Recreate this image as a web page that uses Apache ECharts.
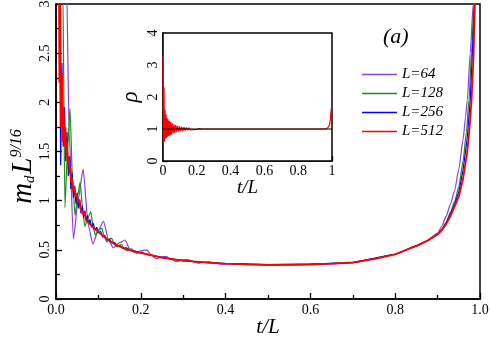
<!DOCTYPE html>
<html>
<head>
<meta charset="utf-8">
<script src="https://cdn.jsdelivr.net/npm/echarts@6.0.0/dist/echarts.min.js"></script>
<style>
html, body { margin: 0; padding: 0; background: #fff; }
#chart_md { width: 491px; height: 338px; }
</style>
</head>
<body>
<div id="chart_md"></div>
<script>
var series_names = ['L=64', 'L=128', 'L=256', 'L=512'];
var series_colors = ['#8c3fdc', '#1e8c1e', '#0000ff', '#ff0000'];

// main plot: m_d L^{9/16} against t/L
var t_L64 = [0.0156, 0.025, 0.031, 0.041, 0.052, 0.064, 0.076, 0.087, 0.100, 0.112, 0.124, 0.135, 0.149, 0.163, 0.175, 0.186, 0.200, 0.214, 0.226, 0.237, 0.250, 0.261, 0.273, 0.285, 0.300, 0.310, 0.325, 0.335, 0.350, 0.360, 0.375, 0.390, 0.410, 0.430, 0.460, 0.500, 0.550, 0.600, 0.650, 0.700, 0.750, 0.800, 0.850, 0.875, 0.900, 0.910, 0.920, 0.930, 0.940, 0.950, 0.960, 0.966, 0.970, 0.977, 0.984, 0.992];
var v_L64 = [8, 3.2, 1.7, 0.61, 1.0, 1.32, 0.75, 0.56, 0.70, 0.79, 0.60, 0.52, 0.57, 0.60, 0.50, 0.47, 0.49, 0.50, 0.44, 0.41, 0.43, 0.43, 0.40, 0.38, 0.40, 0.40, 0.38, 0.365, 0.375, 0.38, 0.365, 0.355, 0.36, 0.355, 0.35, 0.345, 0.345, 0.35, 0.356, 0.37, 0.41, 0.455, 0.54, 0.595, 0.67, 0.74, 0.84, 0.96, 1.1, 1.32, 1.62, 1.85, 2.02, 2.5, 3.0, 4.2];

var t_L128 = [0.008, 0.016, 0.021, 0.027, 0.033, 0.039, 0.045, 0.051, 0.057, 0.063, 0.068, 0.075, 0.082, 0.088, 0.093, 0.100, 0.108, 0.114, 0.120, 0.126, 0.131, 0.137, 0.143, 0.149, 0.155, 0.161, 0.167, 0.173, 0.179, 0.185, 0.191, 0.197, 0.203, 0.215, 0.225, 0.240, 0.260, 0.280, 0.300, 0.350, 0.400, 0.500, 0.600, 0.700, 0.800, 0.850, 0.875, 0.900, 0.910, 0.920, 0.930, 0.940, 0.950, 0.960, 0.968, 0.974, 0.980, 0.986, 0.992];
var v_L128 = [7, 3.2, 0.93, 1.5, 1.94, 1.2, 0.85, 1.05, 1.19, 0.9, 0.74, 0.82, 0.89, 0.72, 0.65, 0.70, 0.72, 0.63, 0.58, 0.61, 0.62, 0.56, 0.53, 0.545, 0.555, 0.51, 0.49, 0.505, 0.51, 0.48, 0.465, 0.47, 0.475, 0.45, 0.445, 0.43, 0.415, 0.40, 0.39, 0.372, 0.36, 0.35, 0.355, 0.37, 0.455, 0.54, 0.59, 0.66, 0.71, 0.78, 0.88, 0.99, 1.14, 1.4, 1.7, 2.02, 2.5, 3.0, 4.2];

var t_L256 = [0.004, 0.008, 0.011, 0.014, 0.017, 0.020, 0.023, 0.026, 0.029, 0.032, 0.035, 0.038, 0.041, 0.044, 0.047, 0.050, 0.053, 0.056, 0.059, 0.062, 0.065, 0.068, 0.071, 0.074, 0.077, 0.080, 0.084, 0.088, 0.092, 0.096, 0.100, 0.105, 0.110, 0.115, 0.120, 0.126, 0.132, 0.138, 0.144, 0.150, 0.158, 0.166, 0.175, 0.185, 0.200, 0.220, 0.250, 0.300, 0.350, 0.400, 0.500, 0.600, 0.700, 0.800, 0.850, 0.875, 0.900, 0.910, 0.920, 0.930, 0.940, 0.950, 0.960, 0.970, 0.977, 0.982, 0.987, 0.992];
var v_L256 = [6.5, 3.2, 1.36, 2.4, 1.55, 1.95, 1.4, 1.7, 1.25, 1.45, 1.12, 1.28, 1.03, 1.15, 0.97, 1.08, 0.92, 1.01, 0.87, 0.95, 0.83, 0.90, 0.79, 0.85, 0.76, 0.81, 0.73, 0.77, 0.70, 0.73, 0.67, 0.69, 0.63, 0.645, 0.60, 0.61, 0.57, 0.575, 0.54, 0.545, 0.515, 0.52, 0.495, 0.49, 0.47, 0.45, 0.42, 0.39, 0.372, 0.36, 0.35, 0.355, 0.37, 0.455, 0.54, 0.59, 0.655, 0.705, 0.77, 0.86, 0.96, 1.09, 1.31, 1.64, 2.02, 2.5, 3.0, 4.2];

var t_L512 = [0.002, 0.004, 0.006, 0.008, 0.010, 0.012, 0.014, 0.016, 0.018, 0.020, 0.022, 0.024, 0.026, 0.028, 0.030, 0.032, 0.034, 0.036, 0.038, 0.040, 0.043, 0.046, 0.049, 0.052, 0.055, 0.058, 0.061, 0.064, 0.067, 0.070, 0.073, 0.076, 0.080, 0.084, 0.088, 0.092, 0.096, 0.100, 0.110, 0.120, 0.130, 0.140, 0.150, 0.160, 0.180, 0.200, 0.220, 0.250, 0.300, 0.350, 0.400, 0.450, 0.500, 0.550, 0.600, 0.650, 0.700, 0.750, 0.800, 0.850, 0.875, 0.900, 0.910, 0.920, 0.930, 0.940, 0.950, 0.960, 0.970, 0.975, 0.980, 0.985, 0.988, 0.993];
var v_L512 = [6, 3.0, 4.2, 2.2, 3.0, 1.75, 2.3, 1.6, 1.95, 1.55, 1.75, 1.45, 1.6, 1.38, 1.45, 1.28, 1.33, 1.18, 1.23, 1.10, 1.14, 1.04, 1.07, 0.98, 1.01, 0.92, 0.94, 0.86, 0.89, 0.82, 0.84, 0.78, 0.79, 0.74, 0.76, 0.71, 0.72, 0.68, 0.645, 0.61, 0.58, 0.555, 0.535, 0.515, 0.49, 0.47, 0.45, 0.42, 0.39, 0.372, 0.36, 0.352, 0.348, 0.348, 0.352, 0.36, 0.372, 0.405, 0.455, 0.54, 0.59, 0.655, 0.70, 0.76, 0.84, 0.94, 1.04, 1.22, 1.5, 1.72, 2.02, 2.5, 3.0, 4.2];

// inset: rho against t/L (L=512) and the rho=1 line
var t_rho = [0, 0.003, 0.006, 0.009, 0.012, 0.015, 0.018, 0.021, 0.024, 0.027, 0.030, 0.034, 0.038, 0.042, 0.046, 0.050, 0.055, 0.060, 0.065, 0.070, 0.075, 0.080, 0.086, 0.092, 0.098, 0.104, 0.110, 0.117, 0.124, 0.131, 0.138, 0.146, 0.154, 0.162, 0.170, 0.180, 0.190, 0.200, 0.215, 0.230, 0.300, 0.500, 0.700, 0.900, 0.960, 0.975, 0.985, 0.990, 0.995, 1.000];
var v_rho = [3.3, 0.5, 2.3, 0.6, 1.6, 0.7, 1.45, 0.72, 1.35, 0.76, 1.3, 0.78, 1.25, 0.8, 1.22, 0.83, 1.18, 0.86, 1.15, 0.88, 1.12, 0.9, 1.1, 0.92, 1.08, 0.93, 1.07, 0.94, 1.06, 0.95, 1.05, 0.96, 1.04, 0.97, 1.03, 0.98, 1.02, 0.99, 1.01, 1.0, 1.0, 1.0, 1.0, 1.0, 1.0, 1.04, 1.12, 1.3, 1.62, 1.7];
var t_rho_ref = [0, 1];
var v_rho_ref = [1, 1];

var font_serif = '"Liberation Serif", serif';

function zip_points(ts, vs){
    var pts = [];
    for(var i = 0; i < ts.length; i++)
        pts.push([ts[i], vs[i]]);
    return pts;
}

function main_series(idx, ts, vs, width, smooth){
    return {
        name: series_names[idx],
        type: 'line',
        xAxisIndex: 0,
        yAxisIndex: 0,
        symbol: 'none',
        showSymbol: false,
        clip: true,
        smooth: smooth,
        smoothMonotone: 'x',
        color: series_colors[idx],
        lineStyle: { color: series_colors[idx], width: width },
        data: zip_points(ts, vs),
        z: 2 + idx
    };
}

function box_axis(grid, min, max, interval, tickLen, minorLen){
    return {
        type: 'value',
        gridIndex: grid,
        min: min,
        max: max,
        interval: interval,
        nameMoveOverlap: false,
        axisLine: { show: true, onZero: false, lineStyle: { color: '#000', width: 1.5 } },
        axisTick: { show: true, inside: true, length: tickLen, lineStyle: { color: '#000', width: 1.3 } },
        minorTick: { show: true, splitNumber: 2, length: minorLen, lineStyle: { color: '#000', width: 1.3 } },
        splitLine: { show: false },
        axisLabel: { color: '#000', fontFamily: font_serif, fontSize: 14 }
    };
}

var x_main = box_axis(0, 0, 1, 0.2, 6, 4);
x_main.axisLabel.margin = 4;
x_main.axisLabel.formatter = function(v){ return v.toFixed(1); };
x_main.name = 't/L';
x_main.nameLocation = 'middle';
x_main.nameGap = 18;
x_main.nameTextStyle = { color: '#000', fontFamily: font_serif, fontStyle: 'italic', fontSize: 21 };

var y_main = box_axis(0, 0, 3, 0.5, 6, 4);
y_main.axisLabel.rotate = 90;
y_main.axisLabel.margin = 4;
y_main.name = '{m|m}{d|d}{g| }{L|L}{p|9/16}';
y_main.nameLocation = 'middle';
y_main.nameRotate = 90;
y_main.nameGap = 18;
y_main.nameTextStyle = {
    color: '#000',
    padding: [0, 30, 0, 0],
    rich: {
        m: { fontFamily: font_serif, fontStyle: 'italic', fontSize: 29, color: '#000' },
        d: { fontFamily: font_serif, fontStyle: 'italic', fontSize: 15, color: '#000', verticalAlign: 'bottom', lineHeight: 15 },
        g: { fontSize: 6 },
        L: { fontFamily: font_serif, fontStyle: 'italic', fontSize: 29, color: '#000' },
        p: { fontFamily: font_serif, fontStyle: 'italic', fontSize: 16, color: '#000', verticalAlign: 'top', lineHeight: 14 }
    }
};

var x_inset = box_axis(1, 0, 1, 0.2, 5, 3);
x_inset.axisLabel.margin = 3;
x_inset.name = 't/L';
x_inset.nameLocation = 'middle';
x_inset.nameGap = 17;
x_inset.nameTextStyle = { color: '#000', fontFamily: font_serif, fontStyle: 'italic', fontSize: 19 };

var y_inset = box_axis(1, 0, 4, 1, 5, 3);
y_inset.axisLabel.rotate = 90;
y_inset.axisLabel.margin = 3;
y_inset.name = 'ρ';
y_inset.nameLocation = 'middle';
y_inset.nameRotate = 90;
y_inset.nameGap = 21;
y_inset.nameTextStyle = { color: '#000', fontFamily: font_serif, fontStyle: 'italic', fontSize: 23 };

var option_md = {
    animation: false,
    backgroundColor: '#fff',
    grid: [
        { left: 56, top: 4, width: 424, height: 295, outerBoundsMode: 'none', containLabel: false, show: true, borderColor: '#000', borderWidth: 1.5, backgroundColor: 'transparent' },
        { left: 163, top: 33, width: 169, height: 128, outerBoundsMode: 'none', containLabel: false, show: true, borderColor: '#000', borderWidth: 1.5, backgroundColor: '#fff', z: 10 }
    ],
    xAxis: [x_main, x_inset],
    yAxis: [y_main, y_inset],
    legend: {
        data: series_names,
        orient: 'vertical',
        left: 357,
        top: 61,
        icon: 'rect',
        itemWidth: 35,
        itemHeight: 1.4,
        itemGap: 2,
        textStyle: { color: '#000', fontFamily: font_serif, fontStyle: 'italic', fontSize: 15, lineHeight: 17 }
    },
    graphic: [
        {
            type: 'text',
            left: 383,
            top: 26,
            style: { text: '(a)', font: 'italic 22px "Liberation Serif"', fill: '#000' }
        }
    ],
    series: [
        main_series(0, t_L64, v_L64, 1.2, 0.2),
        main_series(1, t_L128, v_L128, 1.2, 0.2),
        main_series(2, t_L256, v_L256, 1.2, false),
        main_series(3, t_L512, v_L512, 1.8, false),
        {
            name: 'rho',
            type: 'line',
            xAxisIndex: 1,
            yAxisIndex: 1,
            symbol: 'none',
            showSymbol: false,
            lineStyle: { color: '#ff0000', width: 1.2 },
            data: zip_points(t_rho, v_rho),
            z: 11
        },
        {
            name: 'rho_ref',
            type: 'line',
            xAxisIndex: 1,
            yAxisIndex: 1,
            symbol: 'none',
            showSymbol: false,
            lineStyle: { color: '#000', width: 1.2 },
            data: zip_points(t_rho_ref, v_rho_ref),
            z: 12
        }
    ]
};

var echarts_md = echarts.init(document.getElementById('chart_md'), null, { renderer: 'canvas' });
echarts_md.setOption(option_md);
</script>
</body>
</html>
